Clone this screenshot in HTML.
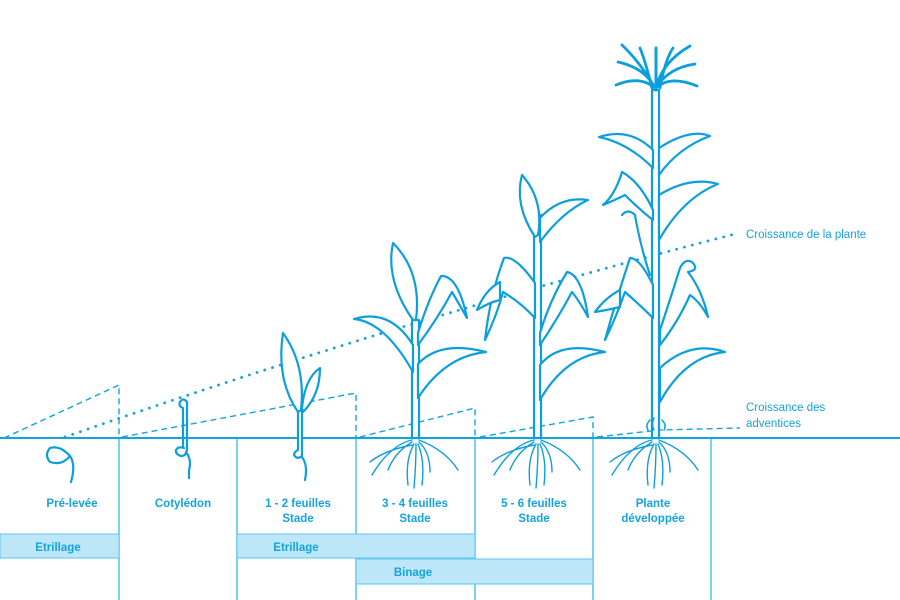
<!DOCTYPE html>
<html><head><meta charset="utf-8"><style>
html,body{margin:0;padding:0;background:#fff;}
svg{display:block}
text{font-family:"Liberation Sans",sans-serif;font-size:11.5px;fill:#13a3df;font-weight:bold;}
</style></head><body>
<svg width="900" height="600" viewBox="0 0 900 600" xmlns="http://www.w3.org/2000/svg">
<g stroke="#4fc2ee" stroke-width="1.5" fill="none">
<line x1="119" y1="438" x2="119" y2="600"/>
<line x1="237" y1="438" x2="237" y2="600"/>
<line x1="356" y1="438" x2="356" y2="600"/>
<line x1="475" y1="438" x2="475" y2="600"/>
<line x1="593" y1="438" x2="593" y2="600"/>
<line x1="711" y1="438" x2="711" y2="600"/>
</g>
<g fill="#bee6f9" stroke="#5cc6ef" stroke-width="1">
<rect x="0" y="534" width="119" height="24"/>
<rect x="237" y="534" width="238" height="24"/>
<rect x="356" y="559" width="237" height="25"/>
</g>
<text x="58" y="551" text-anchor="middle">Etrillage</text>
<text x="296" y="551" text-anchor="middle">Etrillage</text>
<text x="413" y="576" text-anchor="middle">Binage</text>
<line x1="0" y1="438" x2="900" y2="438" stroke="#13a3df" stroke-width="2"/>
<g stroke="#13a3df" stroke-width="1.4" fill="none" stroke-dasharray="6,4">
<path d="M4,438 L119,385 L119,438"/>
<path d="M122,437 L356,393 L356,438"/>
<path d="M360,437 L475,408 L475,438"/>
<path d="M480,437 L593,417 L593,438"/>
<path d="M597,437 L660,430 L740,428"/>
</g>
<path d="M65,437 Q400,320 735,234" stroke="#13a3df" stroke-width="2.8" fill="none" stroke-dasharray="0.1,8" stroke-linecap="round"/>
<text x="746" y="238" style="font-weight:normal;font-size:11.5px">Croissance de la plante</text>
<text x="746" y="411" style="font-weight:normal;font-size:11.5px">Croissance des</text>
<text x="746" y="427" style="font-weight:normal;font-size:11.5px">adventices</text>
<g text-anchor="middle">
<text x="72" y="507">Pré-levée</text>
<text x="183" y="507">Cotylédon</text>
<text x="298" y="507">1 - 2 feuilles</text>
<text x="298" y="522">Stade</text>
<text x="415" y="507">3 - 4 feuilles</text>
<text x="415" y="522">Stade</text>
<text x="534" y="507">5 - 6 feuilles</text>
<text x="534" y="522">Stade</text>
<text x="653" y="507">Plante</text>
<text x="653" y="522">développée</text>
</g>
<g stroke="#0d9fdd" stroke-width="2.2" fill="#fff" stroke-linejoin="round" stroke-linecap="round">
<path d="M70,456 Q60,445 50,448 Q44,455 50,462 Q62,466 70,456 Q76,465 71,482" fill="none"/>
<path d="M180,402 Q183,397 187,402 L187,448 Q187,456 181,456 Q175,454 176,450 Q178,446 184,448 M186,452 Q192,460 189,470 L189,478" fill="none"/>
<path d="M180,402 Q178,406 183,408 L183,446" fill="none"/>
<path d="M298,410 L298,450 Q294,452 294,455 Q297,460 302,456 L302,410 Z"/>
<path d="M302,457 Q308,465 305,480" fill="none"/>
<path d="M298,412 Q276,380 283,333 Q306,365 301,410 Z"/>
<path d="M302,408 Q305,378 320,368 Q320,395 303,412 Z"/>
<!-- plant 4 -->
<path d="M412,320 L412,438 L419,438 L419,320 Z"/>
<path d="M413,320 Q385,280 393,243 Q422,272 416,320 Z"/>
<path d="M413,345 Q390,308 354,319 Q385,322 413,372 Z"/>
<path d="M418,333 Q428,300 441,276 Q458,275 467,318 Q458,302 452,292 Q438,318 418,345 Z"/>
<path d="M418,364 Q440,340 486,352 Q445,356 418,398 Z"/>
<!-- plant 5 -->
<path d="M534,215 L534,438 L541,438 L541,215 Z"/>
<path d="M535,237 Q514,205 522,175 Q544,200 538,235 Z"/>
<path d="M540,218 Q560,196 588,200 Q562,212 540,242 Z"/>
<path d="M535,283 Q515,255 504,258 Q490,295 485,340 Q497,315 503,292 Q520,302 535,318 Z"/>
<path d="M500,282 Q485,290 477,310 Q490,302 500,300 Z"/>
<path d="M540,333 Q550,300 567,272 Q582,275 588,317 Q580,302 572,292 Q558,318 540,345 Z"/>
<path d="M540,365 Q560,340 605,352 Q565,356 540,400 Z"/>
<!-- plant 6 -->
<path d="M652,90 L652,438 L659,438 L659,90 Z"/>
<path d="M653,150 Q630,127 599,137 Q628,143 653,168 Z"/>
<path d="M659,148 Q690,128 710,136 Q678,148 659,175 Z"/>
<path d="M659,195 Q690,176 718,184 Q683,198 659,240 Z"/>
<path d="M653,210 Q640,182 622,172 Q615,195 603,205 Q615,200 625,195 Q640,210 653,220 Z"/>
<path d="M650,275 Q640,245 635,215 Q628,208 622,215" fill="none"/>
<path d="M653,285 Q640,258 630,258 Q616,300 605,340 Q617,315 625,292 Q640,305 653,318 Z"/>
<path d="M620,290 Q605,298 595,312 Q608,310 620,307 Z"/>
<path d="M660,330 Q670,300 680,268 Q685,258 692,262 Q700,270 688,272 Q702,290 708,317 Q700,302 690,295 Q678,322 660,345 Z"/>
<path d="M660,368 Q690,340 725,352 Q685,356 660,402 Z"/>
<path d="M656,48 L656,90" fill="none" stroke-width="3"/>
<path d="M655,88 Q640,62 622,45 M655,88 Q645,68 618,62 M655,88 Q640,75 616,85 M656,88 Q662,62 690,46 M656,88 Q668,68 695,64 M656,88 Q670,75 697,86 M652,88 Q645,60 640,48 M660,88 Q665,60 673,48" fill="none" stroke-width="2.8"/>
<path d="M650,420 Q645,425 648,430 M662,420 Q667,425 664,430 M654,418 Q651,424 654,430" fill="none" stroke-width="1.5"/>
</g>
<g stroke="#0d9fdd" stroke-width="1.4" fill="none" stroke-linecap="round">
<path d="M412,440 Q390,445 372,475 M412,442 Q395,452 388,470 M414,444 Q405,460 408,485 M416,444 Q416,465 414,488 M418,444 Q425,460 422,485 M419,442 Q430,452 430,472 M419,440 Q445,450 458,470 M412,445 Q385,450 370,462"/>
<path d="M534,440 Q512,445 494,475 M534,442 Q517,452 510,470 M536,444 Q527,460 530,485 M538,444 Q538,465 536,488 M540,444 Q547,460 544,485 M541,442 Q552,452 552,472 M541,440 Q567,450 580,470 M534,445 Q507,450 492,462"/>
<path d="M652,440 Q630,445 612,475 M652,442 Q635,452 628,470 M654,444 Q645,460 648,485 M656,444 Q656,465 654,488 M658,444 Q665,460 662,485 M659,442 Q670,452 670,472 M659,440 Q685,450 698,470 M652,445 Q625,450 610,462"/>
</g>
</svg>
</body></html>
